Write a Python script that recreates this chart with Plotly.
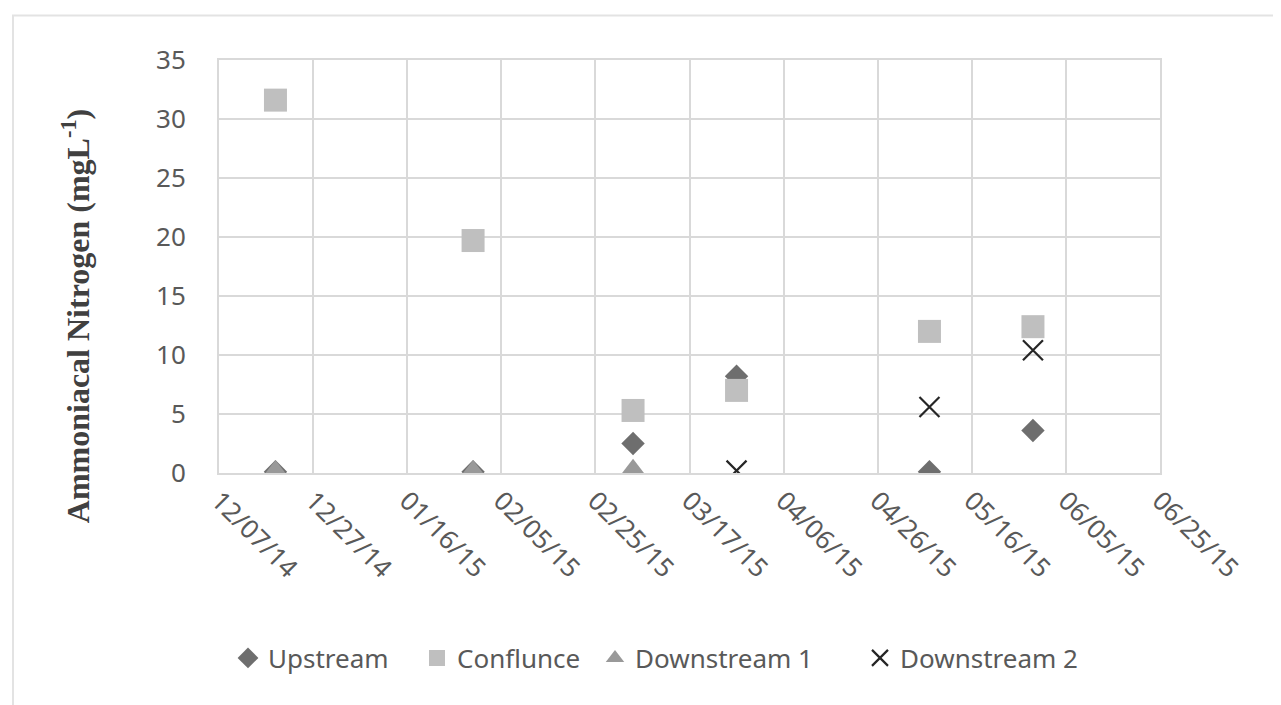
import plotly.graph_objects as go

# ---- data ----
dates = ["2014-12-19", "2015-01-30", "2015-03-05", "2015-03-27", "2015-05-07", "2015-05-29"]
upstream = [0.1, 0.1, 2.5, 8.2, 0.1, 3.6]
confluence = [31.6, 19.7, 5.3, 7.0, 12.0, 12.4]
downstream1 = [0.3, 0.3, 0.4, None, None, None]
downstream2 = [None, None, None, 0.2, 5.6, 10.4]

series_names = ["Upstream", "Conflunce", "Downstream 1", "Downstream 2"]
x_range = ["2014-12-07", "2015-06-25"]
y_range = [0, 35]
y_title = "Ammoniacal Nitrogen (mgL<sup>-1</sup>)"

W, H = 1281, 705
OFF = 8  # page body margin
L, R, T, B = 219 - OFF, 1160 - OFF, 59.5 - OFF, 473 - OFF
grid = "#d9d9d9"
tickfont = dict(family="Noto Sans", size=26, color="#595959")

fig = go.Figure()
specs = [
    (upstream, dict(symbol="diamond", size=18, color="#6e6e6e", line=dict(width=0)), "legend"),
    (confluence, dict(symbol="square", size=23, color="#bfbfbf", line=dict(width=0)), "legend2"),
    (downstream1, dict(symbol="triangle-up", size=19, color="#999999", line=dict(width=0)), "legend3"),
    (downstream2, dict(symbol="x-thin", size=20, color="#262626", line=dict(width=2.2, color="#262626")), "legend4"),
]
for name, (vals, mk, lg) in zip(series_names, specs):
    fig.add_trace(go.Scatter(x=dates, y=vals, mode="markers", name=name, marker=mk, legend=lg))

legend_x = [220, 409, 587, 852]
legend_common = dict(orientation="h", xref="container", yref="container", xanchor="left",
                     yanchor="middle", y=1 - (658 - OFF) / H, font=tickfont, bgcolor="rgba(0,0,0,0)",
                     itemwidth=30)
lkeys = ["legend", "legend2", "legend3", "legend4"]
layout_legends = {k: dict(legend_common, x=lx / W) for k, lx in zip(lkeys, legend_x)}

pw, ph = R - L, B - T
fig.update_layout(
    width=W, height=H,
    margin=dict(l=L, r=W - R, t=T, b=H - B),
    paper_bgcolor="white", plot_bgcolor="white",
    showlegend=True,
    xaxis=dict(type="date", range=x_range, tick0=x_range[0], dtick=20 * 86400000,
               tickformat="%m/%d/%y", tickangle=45, tickfont=tickfont,
               showgrid=True, gridcolor=grid, gridwidth=2,
               showline=True, linecolor=grid, linewidth=2, mirror=True,
               zeroline=False, ticks="", ticklabelstandoff=0),
    yaxis=dict(range=y_range, dtick=5, tickfont=tickfont,
               showgrid=True, gridcolor=grid, gridwidth=2,
               showline=True, linecolor=grid, linewidth=2, mirror=True,
               zeroline=False, ticks="", ticklabelstandoff=26),
    annotations=[dict(text=y_title, textangle=-90, showarrow=False,
                      xref="paper", yref="paper",
                      x=(76 - OFF - L) / pw, y=(B - (316 - OFF)) / ph,
                      xanchor="center", yanchor="middle",
                      font=dict(family="Liberation Serif", size=32, color="#404040", weight="bold"))],
    shapes=[dict(type="rect", xref="paper", yref="paper",
                 x0=(13 - OFF - L) / pw, x1=(W + 20 - L) / pw,
                 y0=(B - (H + 20)) / ph, y1=(B - (15 - OFF)) / ph,
                 line=dict(color="#e3e3e3", width=2), fillcolor="rgba(0,0,0,0)", layer="below")],
    **layout_legends,
)

fig.write_html("out.html")
